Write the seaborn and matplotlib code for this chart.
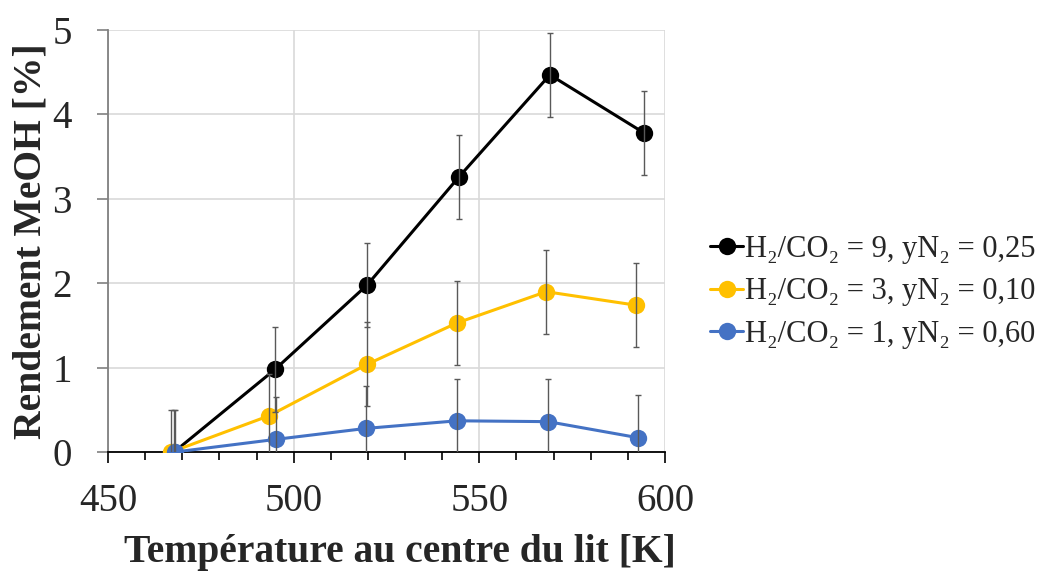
import matplotlib
matplotlib.use("Agg")
import matplotlib.pyplot as plt
import seaborn as sns
import pandas as pd
from matplotlib.ticker import MultipleLocator

# Data
series_labels = ["H₂/CO₂ = 9, yN₂ = 0,25",
                 "H₂/CO₂ = 3, yN₂ = 0,10",
                 "H₂/CO₂ = 1, yN₂ = 0,60"]
temp_9 = [467.8, 495.0, 519.8, 544.5, 569.0, 594.4]
yield_9 = [0.0, 0.98, 1.98, 3.26, 4.47, 3.78]
temp_3 = [467.0, 493.4, 519.8, 544.0, 568.0, 592.2]
yield_3 = [0.0, 0.43, 1.04, 1.53, 1.90, 1.74]
temp_1 = [468.0, 495.2, 519.5, 544.0, 568.5, 592.7]
yield_1 = [0.0, 0.15, 0.28, 0.37, 0.36, 0.17]
err = 0.5
colors = ["#000000", "#FFC000", "#4472C4"]

sns.set_style("white")
plt.rcParams['font.family'] = ['Liberation Serif', 'DejaVu Serif']

fig = plt.figure(figsize=(10.38, 5.79), dpi=100)
ax = fig.add_axes([0.104, 0.2193, 0.5367, 0.7287])

temps = [temp_9, temp_3, temp_1]
yields = [yield_9, yield_3, yield_1]
for i in range(3):
    df = pd.DataFrame({'T': temps[i], 'Y': yields[i]})
    sns.lineplot(data=df, x='T', y='Y', ax=ax, color=colors[i], marker='o',
                 markersize=12.5, markeredgewidth=0, linewidth=2.2,
                 label=series_labels[i], zorder=3 + i, sort=False)
    ax.errorbar(temps[i], yields[i], yerr=err, fmt='none', ecolor='#595959',
                elinewidth=1.0, capsize=2.5, capthick=1.0, zorder=10)

ax.set_xlim(450, 600)
ax.set_ylim(0, 5)
ax.xaxis.set_major_locator(MultipleLocator(50))
ax.xaxis.set_minor_locator(MultipleLocator(10))
ax.yaxis.set_major_locator(MultipleLocator(1))

ax.grid(True, which='major', color='#d9d9d9', linewidth=1.2)
ax.set_axisbelow(True)
for s in ['top', 'right']:
    ax.spines[s].set_visible(False)
ax.spines['left'].set_color('#808080')
ax.spines['left'].set_linewidth(1.3)
ax.spines['bottom'].set_color('#000000')
ax.spines['bottom'].set_linewidth(1.3)

ax.tick_params(axis='x', which='major', length=8, width=1.2, color='#000000',
               labelsize=28, pad=14, direction='out', bottom=True)
ax.tick_params(axis='x', which='minor', length=6, width=1.2, color='#000000',
               direction='out', bottom=True)
ax.tick_params(axis='y', which='major', length=8, width=1.2, color='#808080',
               labelsize=28, pad=18, direction='out', left=True)

ax.set_xlabel("Température au centre du lit [K]", fontsize=28.5, fontweight='bold')
ax.set_ylabel("Rendement MeOH [%]", fontsize=28.5, fontweight='bold')
ax.xaxis.set_label_coords(0.525, -0.195)
ax.yaxis.set_label_coords(-0.105, 0.5)

ax.get_legend().remove()
handles, labels = ax.get_legend_handles_labels()
fig.legend(handles, labels, loc='center left', bbox_to_anchor=(0.672, 0.496),
           frameon=False, fontsize=22, handlelength=1.1, handletextpad=0.05,
           labelspacing=0.45, borderaxespad=0)

fig.savefig("out.png", dpi=100)
